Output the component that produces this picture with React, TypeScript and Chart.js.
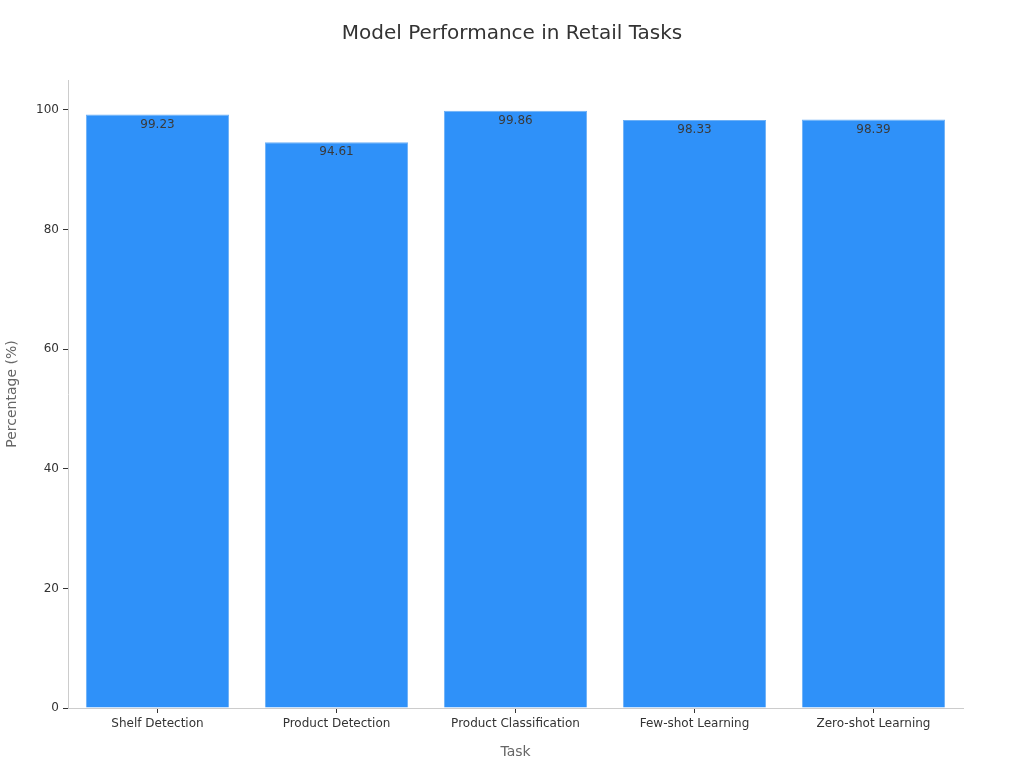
import { useEffect, useRef } from "react"
import { Chart, registerables } from "chart.js"

Chart.register(...registerables)

const tasks = [
  "Shelf Detection",
  "Product Detection",
  "Product Classification",
  "Few-shot Learning",
  "Zero-shot Learning",
]
const percentages = [99.23, 94.61, 99.86, 98.33, 98.39]
const yTickValues = [0, 20, 40, 60, 80, 100]
const chartTitle = "Model Performance in Retail Tasks"

const FONT = "'DejaVu Sans', sans-serif"

// title centred on the whole canvas + value labels just inside each bar top
const textLayer = {
  id: "textLayer",
  afterDraw(chart: any) {
    const ctx = chart.ctx
    ctx.save()
    ctx.textAlign = "center"
    ctx.textBaseline = "middle"
    ctx.font = `20px ${FONT}`
    ctx.fillStyle = "#333333"
    ctx.fillText(chartTitle, chart.width / 2, 34)
    ctx.restore()
  },
  afterDatasetsDraw(chart: any) {
    const ctx = chart.ctx
    const meta = chart.getDatasetMeta(0)
    ctx.save()
    ctx.font = `12px ${FONT}`
    ctx.fillStyle = "#3a3a3a"
    ctx.textAlign = "center"
    ctx.textBaseline = "middle"
    meta.data.forEach((bar: any, i: number) => {
      ctx.fillText(percentages[i].toFixed(2), bar.x, bar.y + 10)
    })
    ctx.restore()
  },
}

export default function App() {
  const canvasRef = useRef<HTMLCanvasElement | null>(null)
  const chartRef = useRef<Chart | null>(null)

  useEffect(() => {
    if (!canvasRef.current) return
    if (chartRef.current) chartRef.current.destroy()

    chartRef.current = new Chart(canvasRef.current, {
      type: "bar",
      data: {
        labels: tasks,
        datasets: [
          {
            label: "Percentage",
            data: percentages,
            backgroundColor: "#2F91F9",
            borderColor: "#6DB0F6",
            borderWidth: 1,
            barPercentage: 0.8,
            categoryPercentage: 1,
          },
        ],
      },
      options: {
        responsive: false,
        animation: false,
        layout: { padding: { left: 0, right: 61, top: 80, bottom: 0 } },
        plugins: {
          legend: { display: false },
          tooltip: { enabled: false },
          title: { display: false },
        },
        scales: {
          x: {
            grid: {
              drawOnChartArea: false,
              offset: false,
              tickLength: 5,
              tickColor: "#333333",
            },
            border: { color: "#cccccc" },
            ticks: {
              color: "#333333",
              padding: 4,
              font: { family: FONT, size: 12 },
            },
            title: {
              display: true,
              text: "Task",
              color: "#666666",
              font: { family: FONT, size: 14 },
              padding: { top: 4, bottom: 7 },
            },
            afterFit: (s: any) => {
              s.height = 60
            },
          },
          y: {
            min: 0,
            max: 105,
            grid: {
              drawOnChartArea: false,
              tickLength: 5,
              tickColor: "#333333",
            },
            border: { color: "#cccccc" },
            ticks: {
              stepSize: 20,
              color: "#333333",
              padding: 4,
              font: { family: FONT, size: 12 },
            },
            afterBuildTicks: (s: any) => {
              s.ticks = yTickValues.map((v) => ({ value: v }))
            },
            title: {
              display: true,
              text: "Percentage (%)",
              color: "#666666",
              font: { family: FONT, size: 14 },
              padding: { bottom: 10 },
            },
            afterFit: (s: any) => {
              s.width = 68
            },
          },
        },
      },
      plugins: [textLayer],
    })

    return () => {
      if (chartRef.current) {
        chartRef.current.destroy()
        chartRef.current = null
      }
    }
  }, [])

  return (
    <div style={{ position: "fixed", left: 0, top: 0, width: 1024, height: 768, background: "#fff" }}>
      <canvas ref={canvasRef} width={1024} height={768} />
    </div>
  )
}
